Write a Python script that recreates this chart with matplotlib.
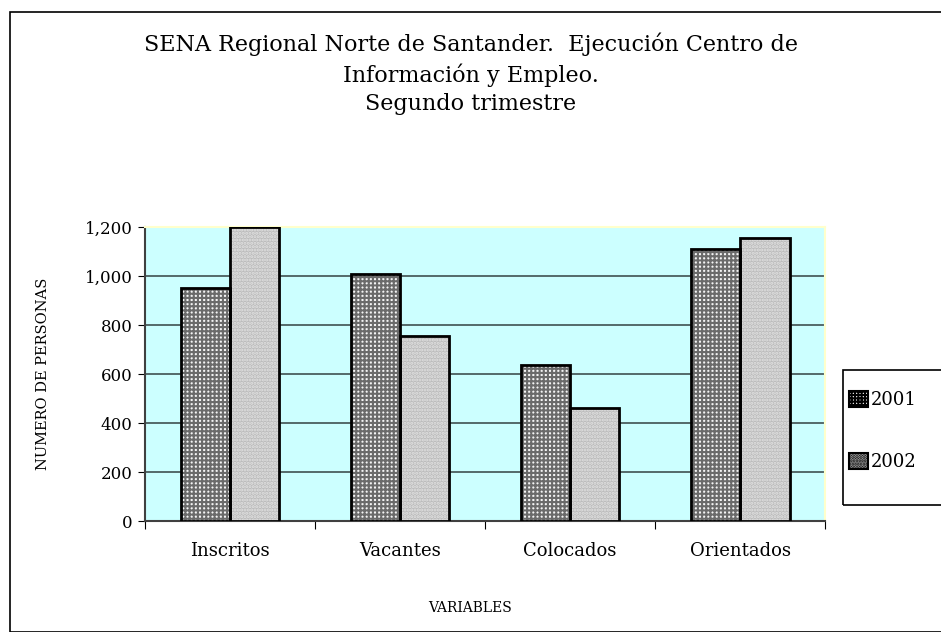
import numpy as np
import matplotlib.pyplot as plt
from matplotlib.patches import Rectangle, Patch

categorias = ["Inscritos", "Vacantes", "Colocados", "Orientados"]
anios = ["2001", "2002"]
v2001 = [950, 1010, 637, 1110]
v2002 = [1200, 755, 460, 1155]
yticks = [0, 200, 400, 600, 800, 1000, 1200]

plt.rcParams['font.family'] = ['DejaVu Serif']
plt.rcParams['hatch.linewidth'] = 1.5

fig = plt.figure(figsize=(9.41, 6.32), dpi=100)
ax = fig.add_axes([0.154, 0.1756, 0.723, 0.4652])

# marco exterior del grafico
fig.patches.append(Rectangle((0.011, 0.0), 0.99, 0.981, transform=fig.transFigure,
                             fill=False, edgecolor='black', linewidth=1.2))
# marco de la leyenda
fig.patches.append(Rectangle((0.896, 0.201), 0.11, 0.214, transform=fig.transFigure,
                             fill=False, edgecolor='black', linewidth=1.2))

ax.set_facecolor('#ccffff')
x = np.arange(len(categorias))
w = 0.29

# relleno con trama y luego el contorno negro
ax.bar(x - w / 2, v2001, width=w, color='#f4f4f4', hatch='++++', edgecolor='#6a6a6a',
       linewidth=0, zorder=3)
ax.bar(x + w / 2, v2002, width=w, color='#bcbcbc', hatch='.....', edgecolor='#e2e2e2',
       linewidth=0, zorder=3)
ax.bar(x - w / 2, v2001, width=w, fill=False, edgecolor='black', linewidth=2, zorder=4)
ax.bar(x + w / 2, v2002, width=w, fill=False, edgecolor='black', linewidth=2, zorder=4)

ax.set_xlim(-0.5, len(categorias) - 0.5)
ax.set_ylim(0, 1200)
ax.set_yticks(yticks)
ax.set_yticklabels(["{:,}".format(v) for v in yticks], fontsize=12)
ax.yaxis.grid(True, color='#3f5050', linewidth=1.2, zorder=1)
ax.set_axisbelow(True)

ax.set_xticks(np.arange(len(categorias) + 1) - 0.5)
ax.set_xticklabels([])
ax.set_xticks(x, minor=True)
ax.set_xticklabels(categorias, minor=True, fontsize=13)
ax.tick_params(axis='x', which='major', length=6, direction='out', color='black')
ax.tick_params(axis='x', which='minor', length=0, pad=15)
ax.tick_params(axis='y', length=5, direction='out', pad=4)

ax.spines['left'].set_color('#404040')
ax.spines['bottom'].set_color('#404040')
ax.spines['top'].set_color('#ffffcc')
ax.spines['right'].set_color('#ffffcc')
for s in ax.spines.values():
    s.set_linewidth(1.5)

fig.text(0.046, 0.408, "NUMERO DE PERSONAS", rotation=90, ha='center', va='center',
         fontsize=10.5)
fig.text(0.5, 0.038, "VARIABLES", ha='center', va='center', fontsize=10)

fig.text(0.5, 0.948, "SENA Regional Norte de Santander.  Ejecución Centro de\n"
         "Información y Empleo.\nSegundo trimestre",
         ha='center', va='top', fontsize=16, linespacing=1.36)

handles = [Patch(facecolor='#f4f4f4', hatch='+++++', edgecolor='black', linewidth=1.5),
           Patch(facecolor='#bcbcbc', hatch='......', edgecolor='black', linewidth=1.5)]
leg = fig.legend(handles, anios, loc='center left', bbox_to_anchor=(0.897, 0.318),
                 fontsize=13, frameon=False,
                 handlelength=1.0, handleheight=1.0, handletextpad=0.2,
                 labelspacing=2.4, borderpad=0.3, borderaxespad=0)

fig.savefig("out.png", dpi=100)
